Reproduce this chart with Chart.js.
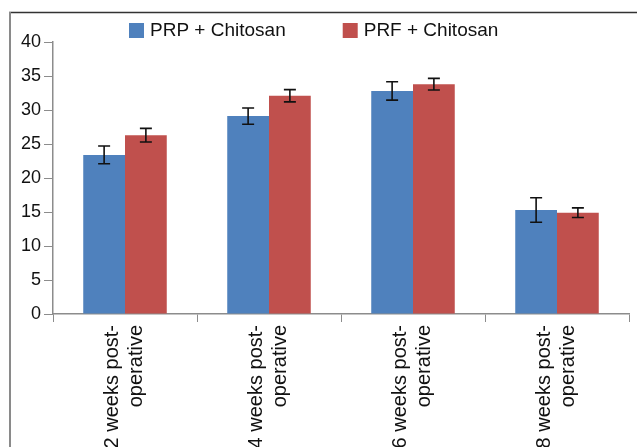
<!DOCTYPE html>
<html>
<head>
<meta charset="utf-8">
<script src="https://cdn.jsdelivr.net/npm/chart.js@4"></script>
<style>
  html, body { margin: 0; padding: 0; background: #fff; }
  #wrap { width: 637px; height: 447px; }
</style>
</head>
<body>
<div id="wrap"><canvas id="barChart" width="637" height="447"></canvas></div>
<script>
// values
const categories = [
  ['2 weeks post-', 'operative'],
  ['4 weeks post-', 'operative'],
  ['6 weeks post-', 'operative'],
  ['8 weeks post-', 'operative']
];
const prpValues = [23.4, 29.1, 32.8, 15.3];
const prpErrors = [1.3, 1.2, 1.35, 1.8];
const prfValues = [26.3, 32.1, 33.8, 14.9];
const prfErrors = [1.0, 0.9, 0.85, 0.7];
const yTicks = [0, 5, 10, 15, 20, 25, 30, 35, 40];

const axisGray = '#8c8c8c';
const font = 'Liberation Sans, Arial, sans-serif';

// frame around the figure
const framePlugin = {
  id: 'frame',
  beforeDraw(chart) {
    const ctx = chart.ctx;
    ctx.save();
    ctx.strokeStyle = '#333';
    ctx.lineWidth = 1.3;
    ctx.beginPath();
    ctx.moveTo(9, 12.5);
    ctx.lineTo(637, 12.5);
    ctx.stroke();
    ctx.strokeStyle = '#8a8a8a';
    ctx.lineWidth = 2;
    ctx.beginPath();
    ctx.moveTo(10, 12);
    ctx.lineTo(10, 447);
    ctx.stroke();
    ctx.restore();
  }
};

// legend drawn by hand so it sits where the original one does
const legendPlugin = {
  id: 'topLegend',
  afterDraw(chart) {
    const ctx = chart.ctx;
    ctx.save();
    ctx.font = '19px ' + font;
    ctx.textBaseline = 'middle';
    let x = 129;
    chart.data.datasets.forEach(ds => {
      ctx.fillStyle = ds.backgroundColor;
      ctx.fillRect(x, 23, 15, 15);
      ctx.fillStyle = '#111';
      ctx.fillText(ds.label, x + 21, 31);
      x += 21 + ctx.measureText(ds.label).width + 57;
    });
    ctx.restore();
  }
};

// error bars from the bar elements and the y scale
const errorBarPlugin = {
  id: 'errorBars',
  afterDatasetsDraw(chart) {
    const ctx = chart.ctx;
    const yScale = chart.scales.y;
    ctx.save();
    ctx.strokeStyle = '#111';
    ctx.lineWidth = 1.6;
    chart.data.datasets.forEach((ds, i) => {
      const meta = chart.getDatasetMeta(i);
      meta.data.forEach((bar, j) => {
        const v = ds.data[j];
        const e = ds.errors[j];
        const top = yScale.getPixelForValue(v + e);
        const bot = yScale.getPixelForValue(v - e);
        ctx.beginPath();
        ctx.moveTo(bar.x, top);
        ctx.lineTo(bar.x, bot);
        ctx.moveTo(bar.x - 6, top);
        ctx.lineTo(bar.x + 6, top);
        ctx.moveTo(bar.x - 6, bot);
        ctx.lineTo(bar.x + 6, bot);
        ctx.stroke();
      });
    });
    ctx.restore();
  }
};

const barCtx = document.getElementById('barChart').getContext('2d');
const barChart = new Chart(barCtx, {
  type: 'bar',
  data: {
    labels: categories,
    datasets: [{
      label: 'PRP + Chitosan',
      data: prpValues,
      errors: prpErrors,
      backgroundColor: '#4f81bd'
    }, {
      label: 'PRF + Chitosan',
      data: prfValues,
      errors: prfErrors,
      backgroundColor: '#c0504d'
    }]
  },
  options: {
    responsive: false,
    animation: false,
    events: [],
    layout: { padding: { top: 42, left: 10, right: 8, bottom: 0 } },
    datasets: { bar: { categoryPercentage: 0.58, barPercentage: 1.0 } },
    plugins: {
      legend: { display: false },
      tooltip: { enabled: false }
    },
    scales: {
      x: {
        grid: {
          offset: true,
          drawOnChartArea: false,
          color: axisGray,
          tickLength: 8
        },
        border: { color: axisGray, width: 1.5 },
        ticks: {
          autoSkip: false,
          minRotation: 90,
          maxRotation: 90,
          labelOffset: -13,
          padding: 3,
          color: '#111',
          font: { family: font, size: 20 }
        },
        afterFit(scale) { scale.height = 133; }
      },
      y: {
        min: 0,
        max: 40,
        afterBuildTicks(scale) {
          scale.ticks = yTicks.map(v => ({ value: v }));
        },
        grid: {
          drawOnChartArea: false,
          color: axisGray,
          tickLength: 9
        },
        border: { color: axisGray, width: 1.5 },
        ticks: {
          padding: 3,
          color: '#111',
          font: { family: font, size: 18 }
        },
        afterFit(scale) { scale.width = 43; }
      }
    }
  },
  plugins: [framePlugin, errorBarPlugin, legendPlugin]
});
</script>
</body>
</html>
